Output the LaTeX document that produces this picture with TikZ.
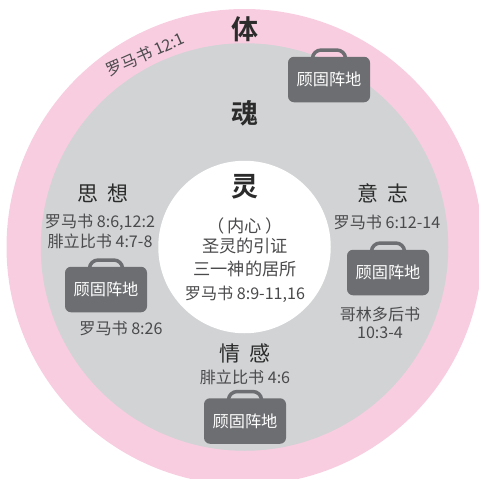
\documentclass[tikz,border=0pt]{standalone}
\usepackage{fontspec}
\setmainfont{Noto Sans CJK SC}[BoldFont={Noto Sans CJK SC Bold}]
\definecolor{pinkc}{HTML}{F8CDE0}
\definecolor{grayc}{HTML}{D1D3D4}
\definecolor{casec}{HTML}{6D6E71}
\definecolor{txtc}{HTML}{4A4A4C}
\definecolor{headc}{HTML}{2B2B2B}
\newcommand{\fs}[1]{\fontsize{#1}{#1}\selectfont}
\tikzset{
  big/.style={font=\fs{27}\bfseries,text=headc,inner sep=0pt},
  head/.style={font=\fs{21},text=headc,inner sep=0pt},
  ref/.style={font=\fs{16.1},text=txtc,inner sep=0pt},
  inner/.style={font=\fs{17.2},text=txtc,inner sep=0pt},
  casebody/.style={fill=casec,rounded corners=6pt,minimum width=82pt,minimum height=45.5pt,inner sep=0pt,text=white,font=\fs{16.2}},
  casehandle/.style={draw=casec,line width=3.5pt,rounded corners=8pt},
  ring/.style={circle,inner sep=0pt},
}
\begin{document}
\begin{tikzpicture}[x=1pt,y=-1pt]
\useasboundingbox (0,0) rectangle (479,479);
\clip (0,0) rectangle (479,479);
\node[ring,fill=pinkc,minimum size=476pt] (outer) at (244.5,247) {};
\node[ring,fill=grayc,minimum size=407.5pt] (soul) at (244.5,247) {};
\node[ring,fill=white,minimum size=172.5pt] (spirit) at (244.5,247) {};
% suitcases
\coordinate (c1p) at (329,79.5);
\coordinate (c2p) at (106,289.5);
\coordinate (c3p) at (388,272.5);
\coordinate (c4p) at (245,421);
\foreach \n/\p in {c1/c1p,c2/c2p,c3/c3p,c4/c4p}{
  \node[casebody] (\n) at (\p) {顾固阵地};
  \draw[casehandle] ([xshift=-16.5pt,yshift=-1pt]\n.north) -- ++(0.5,-7.5) -- ++(32,0) -- ([xshift=16.5pt,yshift=-1pt]\n.north);
}
\node[big] (ti) at (245,29) {体};
\node[big] (hun) at (245,113) {魂};
\node[big] (ling) at (245,187) {灵};
\node[ref,rotate=24] (r1) at (145.5,54.5) {罗马书 12:1};
\node[head] (sx) at (103,193) {思\hspace{9pt}想};
\node[head] (yz) at (383,193) {意\hspace{9pt}志};
\node[head] (qg) at (245,353) {情\hspace{9pt}感};
\node[ref] (r2) at (100,222) {罗马书 8:6,12:2};
\node[ref] (r3) at (100,241) {腓立比书 4:7-8};
\node[ref] (r4) at (387,222) {罗马书 6:12-14};
\node[inner] (n1) at (245,226) {（\,内心\,）};
\node[inner] (n2) at (245,246) {圣灵的引证};
\node[inner] (n3) at (245,269) {三一神的居所};
\node[ref] (r5) at (245,294) {罗马书 8:9-11,16};
\node[ref] (r6) at (121,328) {罗马书 8:26};
\node[ref] (r7) at (380,314) {哥林多后书};
\node[ref] (r8) at (380,333) {10:3-4};
\node[ref] (r9) at (245,377) {腓立比书 4:6};
\end{tikzpicture}
\end{document}
